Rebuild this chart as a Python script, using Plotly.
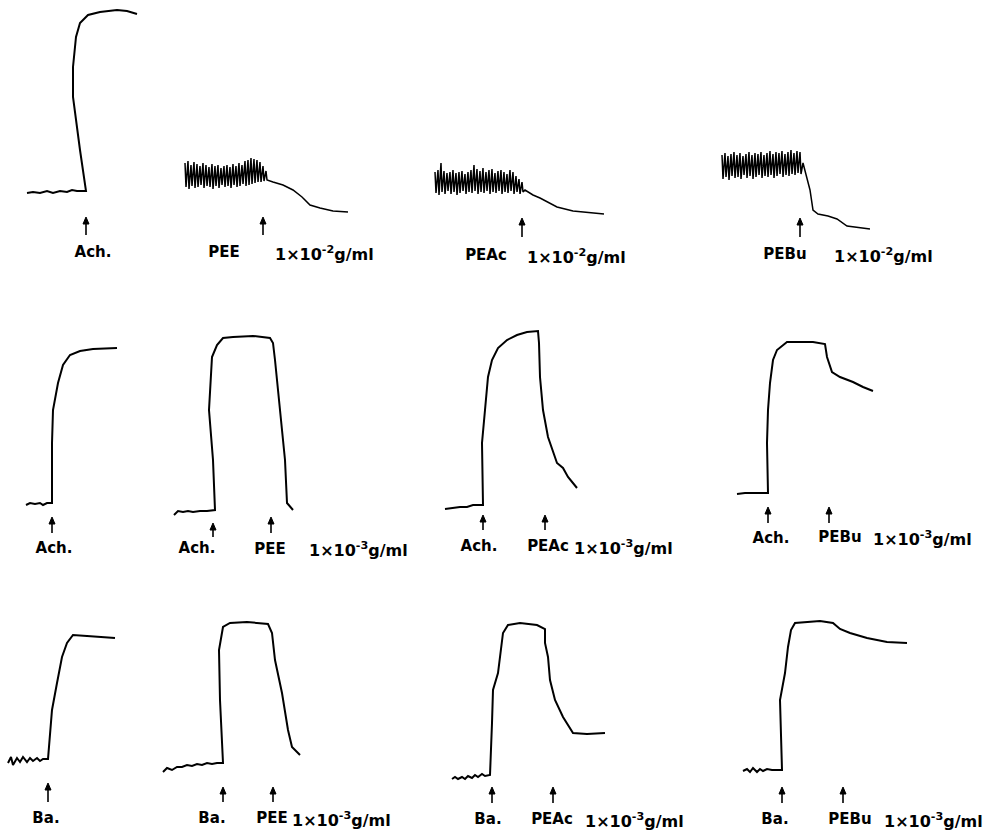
import plotly.graph_objects as go

# ---------------- trace data (read from the recording, pixel units of the figure) ---------------
# Row 1 : 1x10^-2 g/ml
A1_x = [27, 33, 40, 47, 53, 60, 67, 72, 77, 86, 80, 76, 73, 73, 76, 80, 88, 100, 117, 127, 137]
A1_y = [193, 192, 193, 191, 193, 191, 192, 190, 191, 191, 150, 117, 97, 67, 37, 23, 15, 12, 10, 11, 14]

A2_x = [185, 186, 188, 189, 191, 192, 194, 195, 197, 198, 200, 201, 203, 204, 206, 207, 209, 210,
        212, 213, 215, 216, 218, 219, 221, 222, 224, 225, 227, 228, 230, 231, 233, 234, 236, 237,
        239, 240, 242, 243, 245, 246, 248, 249, 251, 252, 254, 255, 257, 258, 260, 261, 263, 264,
        266, 267, 273, 283, 293, 302, 310, 320, 333, 348]
A2_y = [163, 187, 161, 189, 165, 186, 162, 188, 164, 187, 166, 185, 163, 188, 165, 186, 167, 187,
        164, 189, 166, 186, 165, 188, 168, 185, 166, 187, 165, 186, 167, 188, 164, 185, 166, 187,
        163, 186, 165, 184, 161, 186, 160, 185, 158, 184, 159, 183, 160, 182, 162, 182, 166, 181,
        171, 180, 182, 185, 190, 197, 205, 208, 211, 212]

A3_x = [435, 436, 438, 439, 441, 442, 444, 445, 447, 448, 450, 451, 453, 454, 456, 457, 459, 460,
        462, 463, 465, 466, 468, 469, 471, 472, 474, 475, 477, 478, 480, 481, 483, 484, 486, 487,
        489, 490, 492, 493, 495, 496, 498, 499, 501, 502, 504, 505, 507, 508, 510, 511, 513, 514,
        516, 517, 519, 520, 522, 523, 525, 533, 540, 547, 557, 573, 590, 604]
A3_y = [172, 193, 170, 195, 163, 192, 171, 194, 173, 191, 172, 194, 170, 192, 173, 195, 172, 193,
        171, 191, 174, 194, 172, 192, 170, 193, 165, 191, 169, 194, 171, 192, 168, 193, 172, 191,
        170, 194, 169, 192, 173, 193, 171, 191, 170, 194, 172, 192, 174, 193, 170, 191, 172, 194,
        176, 192, 179, 194, 182, 192, 190, 195, 198, 202, 207, 211, 213, 214]

A4_x = [722, 723, 725, 726, 728, 729, 731, 732, 734, 735, 737, 738, 740, 741, 743, 744, 746, 747,
        749, 750, 752, 753, 755, 756, 758, 759, 761, 762, 764, 765, 767, 768, 770, 771, 773, 774,
        776, 777, 779, 780, 782, 783, 785, 786, 788, 789, 791, 792, 794, 795, 797, 798, 800, 801,
        803, 807, 810, 813, 818, 828, 837, 847, 857, 870]
A4_y = [155, 179, 153, 177, 156, 180, 154, 176, 152, 178, 155, 177, 153, 179, 156, 175, 154, 178,
        152, 176, 155, 179, 153, 177, 154, 175, 152, 178, 155, 176, 153, 177, 151, 175, 154, 178,
        152, 176, 153, 174, 151, 177, 154, 175, 152, 176, 150, 174, 153, 175, 151, 173, 152, 174,
        163, 177, 190, 210, 214, 216, 219, 226, 227, 229]

# Row 2 : Ach. then compound 1x10^-3 g/ml
B1_x = [26, 30, 35, 40, 43, 47, 52, 52, 53, 58, 63, 70, 80, 93, 117]
B1_y = [505, 503, 504, 503, 505, 503, 503, 443, 410, 383, 365, 355, 351, 349, 348]

B2_x = [174, 178, 183, 188, 193, 200, 207, 213, 215, 213, 209, 212, 217, 223, 233, 253, 270, 273,
        275, 280, 285, 287, 293]
B2_y = [515, 511, 512, 511, 512, 511, 511, 510, 510, 460, 410, 357, 345, 338, 337, 336, 338, 343,
        360, 410, 460, 503, 510]

B3_x = [445, 452, 460, 467, 473, 483, 482, 485, 488, 492, 498, 507, 517, 527, 538, 539, 540, 543,
        548, 557, 563, 568, 577]
B3_y = [509, 508, 507, 507, 505, 505, 443, 410, 377, 360, 348, 340, 335, 332, 331, 343, 377, 410,
        437, 463, 468, 477, 488]

B4_x = [737, 745, 755, 768, 767, 768, 770, 773, 777, 787, 800, 813, 825, 827, 832, 840, 853, 863, 873]
B4_y = [494, 493, 493, 493, 443, 410, 383, 360, 350, 342, 342, 342, 344, 357, 372, 377, 382, 387, 391]

# Row 3 : Ba. then compound 1x10^-3 g/ml
C1_x = [8, 11, 13, 17, 20, 23, 27, 30, 33, 37, 40, 43, 48, 52, 57, 62, 67, 73, 87, 115]
C1_y = [763, 757, 765, 758, 762, 757, 762, 758, 761, 758, 761, 759, 759, 710, 683, 657, 643, 635,
        636, 638]

C2_x = [163, 167, 172, 177, 182, 187, 192, 197, 202, 207, 212, 217, 223, 220, 219, 223, 230, 247,
        268, 272, 275, 282, 288, 292, 300]
C2_y = [772, 768, 770, 767, 767, 765, 766, 764, 765, 763, 764, 763, 763, 700, 650, 627, 623, 622,
        624, 633, 660, 693, 730, 747, 755]

C3_x = [452, 455, 458, 462, 465, 468, 472, 475, 478, 482, 485, 490, 492, 493, 498, 501, 503, 508,
        520, 537, 545, 545, 548, 550, 555, 563, 573, 587, 605]
C3_y = [779, 777, 779, 777, 779, 776, 778, 775, 777, 774, 776, 775, 723, 690, 673, 650, 633, 625,
        623, 625, 629, 643, 657, 680, 700, 717, 733, 734, 733]

C4_x = [743, 747, 750, 753, 757, 760, 763, 767, 772, 782, 780, 785, 788, 791, 795, 807, 820, 833,
        840, 850, 867, 887, 907]
C4_y = [771, 769, 772, 768, 772, 769, 771, 769, 770, 770, 700, 673, 647, 630, 623, 622, 621, 623,
        629, 633, 638, 642, 643]

traces = [(A1_x, A1_y, 2.0), (A2_x, A2_y, 1.5), (A3_x, A3_y, 1.5), (A4_x, A4_y, 1.5),
          (B1_x, B1_y, 2.0), (B2_x, B2_y, 2.0), (B3_x, B3_y, 2.0), (B4_x, B4_y, 2.0),
          (C1_x, C1_y, 2.0), (C2_x, C2_y, 2.0), (C3_x, C3_y, 2.0), (C4_x, C4_y, 2.0)]

# drug-application arrows: x, head (top), tail (bottom)
arrow_x = [86, 263, 522, 800, 52, 213, 271, 483, 545, 768, 829, 48, 223, 273, 492, 553, 782, 843]
arrow_top = [217, 217, 218, 218, 517, 523, 517, 515, 515, 507, 507, 783, 787, 787, 787, 787, 787, 787]
arrow_bot = [235, 235, 237, 237, 533, 537, 533, 530, 530, 523, 523, 802, 802, 802, 803, 803, 803, 803]

# labels: text, x (centre), y
label_text = ["Ach.", "PEE", "PEAc", "PEBu",
              "Ach.", "Ach.", "PEE", "Ach.", "PEAc", "Ach.", "PEBu",
              "Ba.", "Ba.", "PEE", "Ba.", "PEAc", "Ba.", "PEBu"]
label_x = [93, 224, 486, 785, 54, 197, 270, 479, 548, 771, 840, 46, 212, 272, 488, 552, 775, 850]
label_y = [253, 253, 256, 255, 549, 549, 550, 547, 547, 539, 538, 819, 819, 819, 820, 820, 820, 820]

# concentration labels: text, x (left edge), y
conc_text = ["1×10<sup>-2</sup>g/ml"] * 3 + ["1×10<sup>-3</sup>g/ml"] * 6
conc_x = [273, 525, 832, 307, 572, 871, 290, 583, 882]
conc_y = [253, 256, 255, 549, 547, 538, 819, 820, 820]

fig = go.Figure()
for xs, ys, w in traces:
    fig.add_trace(go.Scatter(x=xs, y=ys, mode="lines",
                             line=dict(color="black", width=w),
                             hoverinfo="skip", showlegend=False))

# arrow shafts
shaft_x, shaft_y = [], []
for x, t, b in zip(arrow_x, arrow_top, arrow_bot):
    shaft_x += [x, x, None]
    shaft_y += [t + 4, b, None]
fig.add_trace(go.Scatter(x=shaft_x, y=shaft_y, mode="lines",
                         line=dict(color="black", width=1.6),
                         hoverinfo="skip", showlegend=False))
# arrow heads as small filled triangles
head_x, head_y = [], []
for x, t in zip(arrow_x, arrow_top):
    head_x += [x - 3, x, x + 3, x - 3, None]
    head_y += [t + 7, t, t + 7, t + 7, None]
fig.add_trace(go.Scatter(x=head_x, y=head_y, mode="lines", fill="toself",
                         fillcolor="black", line=dict(color="black", width=1),
                         hoverinfo="skip", showlegend=False))

# stimulus / compound labels as a text trace
fig.add_trace(go.Scatter(x=label_x, y=label_y, mode="text", text=label_text,
                         textposition="middle center",
                         textfont=dict(family="DejaVu Sans, Liberation Sans, sans-serif",
                                       size=15, color="black", weight="bold"),
                         hoverinfo="skip", showlegend=False))

annotations = []
conc_font = dict(family="DejaVu Sans, Liberation Sans, sans-serif", size=16,
                 color="black", weight="bold")
for t, x, y in zip(conc_text, conc_x, conc_y):
    annotations.append(dict(x=x, y=y, xref="x", yref="y", text=t,
                            showarrow=False, xanchor="left", yanchor="middle", font=conc_font))

fig.update_layout(
    width=993, height=833,
    margin=dict(l=0, r=0, t=0, b=0),
    paper_bgcolor="white", plot_bgcolor="white",
    xaxis=dict(range=[0, 993], visible=False, fixedrange=True),
    yaxis=dict(range=[833, 0], visible=False, fixedrange=True),
    annotations=annotations,
)

fig.write_html("out.html", config={"displayModeBar": False},
               post_script="document.body.style.margin='0px';")
